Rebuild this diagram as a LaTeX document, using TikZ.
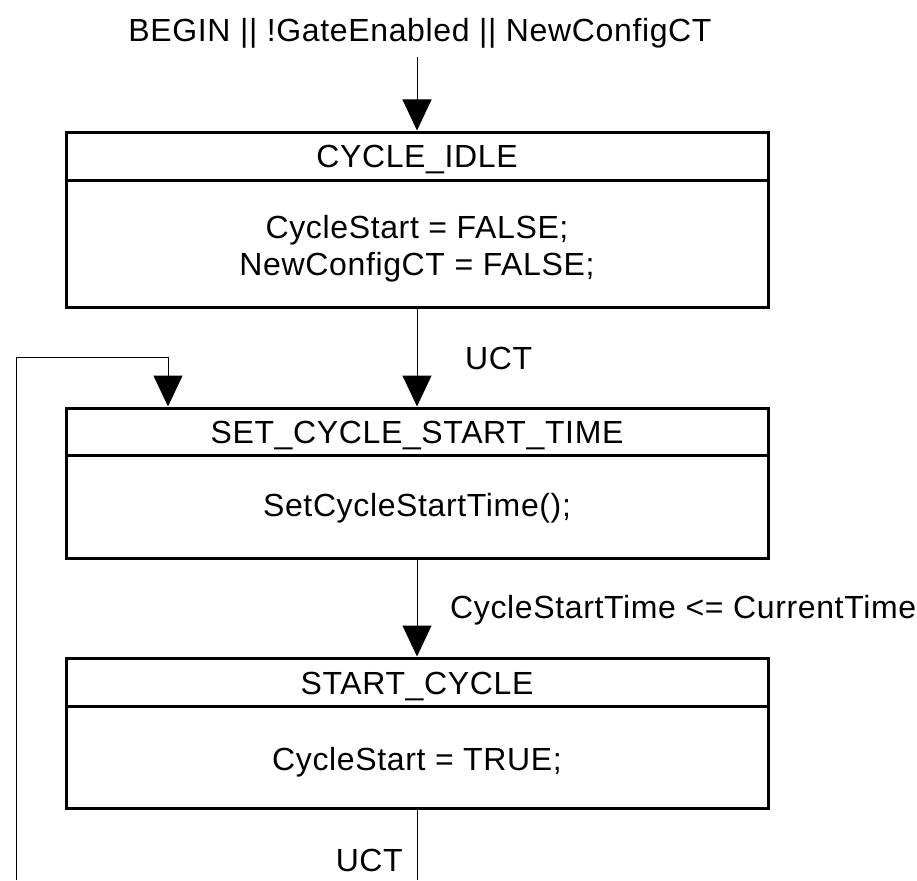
\documentclass[tikz,border=0pt]{standalone}
\usepackage{fontspec}
\setmainfont[LetterSpace=2]{Liberation Sans}
\usetikzlibrary{arrows.meta}
\begin{document}
\begin{tikzpicture}[x=1pt,y=-1pt,
  statebox/.style={draw,line width=3pt,minimum width=702pt,inner sep=0pt},
  txt/.style={font=\fontsize{32}{37}\selectfont,inner sep=0pt,align=center},
  conn/.style={line width=1pt,-{Triangle[width=29pt,length=31pt]}},
  plain/.style={line width=1pt},
  sep/.style={line width=3pt}]
\useasboundingbox (0,0) rectangle (917,880);

% entry condition
\node[txt] (entrylabel) at (420,33) {BEGIN || !GateEnabled || NewConfigCT};
\coordinate (entry) at (417,57);

% CYCLE_IDLE
\node[statebox,minimum height=175pt] (idle) at (417,219.5) {};
\draw[sep] ([yshift=-50pt]idle.north west) -- ([yshift=-50pt]idle.north east);
\node[txt] (idlet) at (417,160) {CYCLE\_IDLE};
\node[txt] (idleb) at (417,248.5) {CycleStart = FALSE;\\NewConfigCT = FALSE;};

% SET_CYCLE_START_TIME
\node[statebox,minimum height=150pt] (set) at (417,483) {};
\draw[sep] ([yshift=-49pt]set.north west) -- ([yshift=-49pt]set.north east);
\node[txt] (sett) at (417,436) {SET\_CYCLE\_START\_TIME};
\node[txt] (setb) at (417,508) {SetCycleStartTime();};

% START_CYCLE
\node[statebox,minimum height=150pt] (startc) at (417,733) {};
\draw[sep] ([yshift=-50pt]startc.north west) -- ([yshift=-50pt]startc.north east);
\node[txt] (startt) at (417,686) {START\_CYCLE};
\node[txt] (startb) at (417,762) {CycleStart = TRUE;};

% connectors
\draw[conn] (entry) -- (idle.north);
\draw[conn] (idle.south) -- (set.north);
\node[txt,anchor=west] (uct1) at (465,358) {UCT};
\draw[conn] (set.south) -- (startc.north);
\node[txt,anchor=west] (cond) at (450,610) {CycleStartTime <= CurrentTime};
\coordinate (exitpt) at (417,880);
\draw[plain] (startc.south) -- (exitpt);
\node[txt,anchor=east] (uct2) at (403,860) {UCT};

% loop back
\coordinate (loopend) at (16,880);
\coordinate (loopturn) at (168,357);
\draw[conn] (loopend) |- (loopturn) -- (loopturn |- set.north);
\end{tikzpicture}
\end{document}
